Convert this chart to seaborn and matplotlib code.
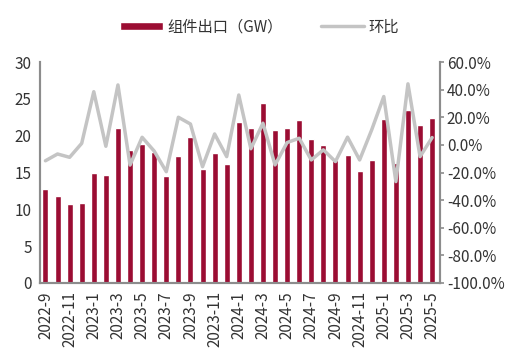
import numpy as np
import pandas as pd
import matplotlib
matplotlib.use("Agg")
import matplotlib.pyplot as plt
import seaborn as sns
from matplotlib import ticker

months = ["2022-9", "2022-10", "2022-11", "2022-12",
          "2023-1", "2023-2", "2023-3", "2023-4", "2023-5", "2023-6",
          "2023-7", "2023-8", "2023-9", "2023-10", "2023-11", "2023-12",
          "2024-1", "2024-2", "2024-3", "2024-4", "2024-5", "2024-6",
          "2024-7", "2024-8", "2024-9", "2024-10", "2024-11", "2024-12",
          "2025-1", "2025-2", "2025-3", "2025-4", "2025-5"]

export_gw = [12.7, 11.8, 10.7, 10.9,
             14.9, 14.7, 21.1, 18.1, 18.9, 17.8,
             14.5, 17.3, 19.8, 15.5, 17.7, 16.2,
             21.9, 21.1, 24.5, 20.8, 21.1, 22.1,
             19.6, 18.7, 16.7, 17.4, 15.2, 16.7,
             22.3, 16.3, 23.5, 21.4, 22.4]

mom_pct = [-11.5, -6.6, -9.0, 1.1,
           38.5, -1.0, 43.4, -14.6, 5.5, -4.5,
           -19.4, 20.0, 15.1, -15.8, 7.9, -8.5,
           36.1, -2.8, 15.7, -14.5, 1.7, 4.8,
           -10.9, -3.6, -12.1, 5.6, -10.9, 10.9,
           35.0, -26.6, 44.2, -8.5, 5.3]

df = pd.DataFrame({"month": months, "export": export_gw, "mom": mom_pct})
df["pos"] = np.arange(len(df))

sns.set_style("white")
plt.rcParams["font.family"] = ["Noto Sans CJK SC", "DejaVu Sans"]
plt.rcParams["axes.unicode_minus"] = False

bar_color = "#9B0D33"
line_color = "#C4C4C4"
spine_color = "#8C8C8C"

fig = plt.figure(figsize=(5.09, 3.58), dpi=100)
ax = fig.add_axes([0.0786, 0.2095, 0.7858, 0.6173])

sns.barplot(data=df, x="pos", y="export", color=bar_color, width=0.5,
            saturation=1, ax=ax, label="组件出口（GW）")
ax2 = ax.twinx()
sns.lineplot(data=df, x="pos", y="mom", color=line_color, linewidth=2.5,
             ax=ax2, label="环比", legend=False)

ax.set_xlim(-0.45, len(df) - 1 + 0.65)
ax.set_ylim(0, 30)
ax.set_yticks(np.arange(0, 31, 5))
ax2.set_ylim(-100, 60)
ax2.set_yticks(np.arange(-100, 61, 20))
ax2.yaxis.set_major_formatter(ticker.FuncFormatter(lambda v, p: f"{v:.1f}%"))

ax.set_xticks(df["pos"][::2])
ax.set_xticklabels(df["month"][::2], rotation=90)
ax.xaxis.set_minor_locator(ticker.FixedLocator(df["pos"][1::2]))
ax.set_xlabel("")
ax.set_ylabel("")
ax2.set_xlabel("")
ax2.set_ylabel("")

for a in (ax, ax2):
    a.spines["top"].set_visible(False)
    for s in ("left", "right", "bottom"):
        a.spines[s].set_color(spine_color)
        a.spines[s].set_linewidth(1.5)

ax.tick_params(axis="x", which="both", direction="out", length=4, width=1.2,
               color=spine_color, labelsize=11, labelcolor="#333333", pad=2)
ax.tick_params(axis="y", length=0, labelsize=11, labelcolor="#333333", pad=6)
ax2.tick_params(axis="y", direction="out", length=3, width=1.2, color=spine_color,
                labelsize=11, labelcolor="#333333", pad=2)
if ax.get_legend() is not None:
    ax.get_legend().remove()

h1, l1 = ax.get_legend_handles_labels()
h2, l2 = ax2.get_legend_handles_labels()
fig.legend(h1 + h2, l1 + l2, loc="center", bbox_to_anchor=(0.51, 0.925),
           ncol=2, frameon=False, fontsize=11, handlelength=2.8,
           handleheight=0.5, columnspacing=2.5, handletextpad=0.3,
           labelcolor="#333333")

fig.savefig("out.png", dpi=100)
